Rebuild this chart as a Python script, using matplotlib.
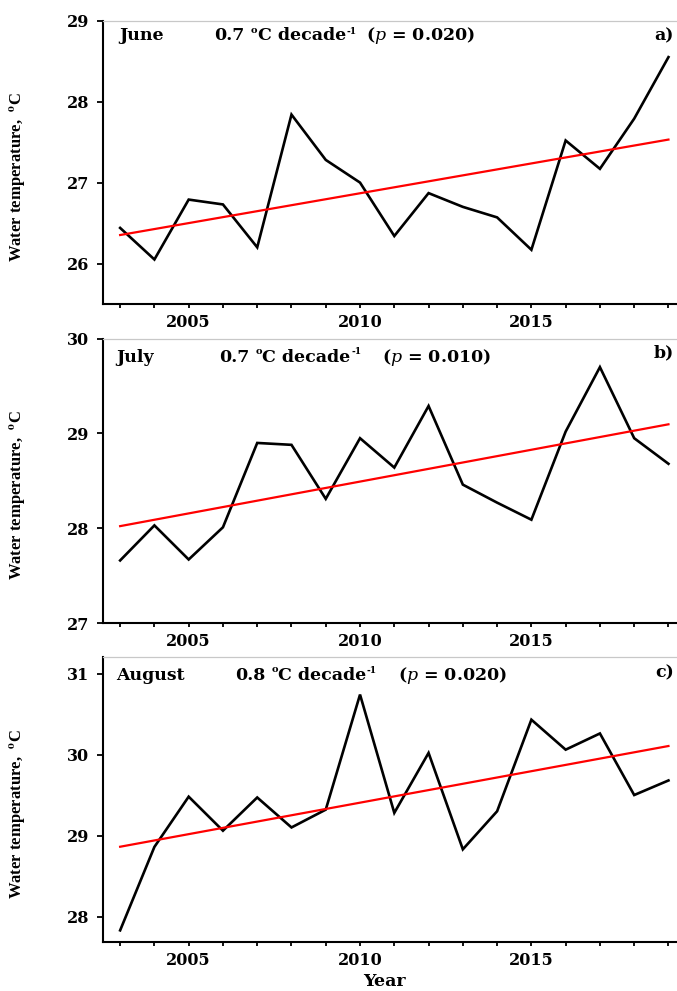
import numpy as np
import matplotlib
matplotlib.use("Agg")
import matplotlib.pyplot as plt
from matplotlib.ticker import MultipleLocator, FixedLocator

# ---- data ----
years = list(range(2003, 2020))
june = [26.44, 26.05, 26.79, 26.73, 26.20, 27.84, 27.28, 27.00, 26.34, 26.87,
        26.70, 26.57, 26.17, 27.52, 27.17, 27.79, 28.55]
july = [27.66, 28.03, 27.67, 28.01, 28.90, 28.88, 28.31, 28.95, 28.64, 29.29,
        28.46, 28.27, 28.09, 29.02, 29.70, 28.95, 28.68]
august = [27.83, 28.86, 29.48, 29.06, 29.47, 29.10, 29.32, 30.74, 29.28, 30.02,
          28.83, 29.30, 30.43, 30.06, 30.26, 29.50, 29.68]
months = ["June", "July", "August"]
trend_txt = ["0.7", "0.7", "0.8"]
p_txt = ["0.020", "0.010", "0.020"]
panel_lbl = ["a)", "b)", "c)"]
yticks = [[26, 27, 28, 29], [27, 28, 29, 30], [28, 29, 30, 31]]
ylims = [(25.5, 29.0), (27.0, 30.0), (27.69, 31.2)]
series = [june, july, august]

W, H = 677, 991
fig = plt.figure(figsize=(W / 100, H / 100), dpi=100)
renderer = fig.canvas.get_renderer()

# axes boxes in pixels: (top, bottom)
boxes = [(20.7, 304.0), (338.7, 623.0), (657.3, 941.7)]
left_px, right_px = 103.0, 685.6

# text positions in pixels
month_pos = [(119, 40.5), (116, 361.5), (116, 680)]
trend_pos = [214.6, 219, 235]
p_pos = [366, 382, 398]
lbl_pos = [(654, 40), (654, 357), (655, 677)]

TXT = dict(family="DejaVu Serif", weight="bold")


def fx(x):
    return x / W


def fy(y):
    return 1 - y / H


def chain(x0, y0, pieces):
    x = x0
    for s, size, rise, gap in pieces:
        t = fig.text(fx(x), fy(y0 - rise), s, fontsize=size, va="baseline",
                     ha="left", **TXT)
        bb = t.get_window_extent(renderer)
        x += bb.width + gap


for i, (top, bot) in enumerate(boxes):
    ax = fig.add_axes([fx(left_px), fy(bot), (right_px - left_px) / W, (bot - top) / H])
    y = series[i]
    ax.plot(years, y, color="black", lw=1.9, solid_joinstyle="miter")
    coef = np.polyfit(years, y, 1)
    yr = np.array([years[0], years[-1]])
    ax.plot(yr, np.polyval(coef, yr), color="#ff0000", lw=1.6)
    ax.set_xlim(2002.5, 2019.5)
    ax.set_ylim(*ylims[i])
    ax.xaxis.set_major_locator(MultipleLocator(5))
    ax.xaxis.set_minor_locator(MultipleLocator(1))
    ax.yaxis.set_major_locator(FixedLocator(yticks[i]))
    for s in ["left", "bottom"]:
        ax.spines[s].set_linewidth(1.5)
        ax.spines[s].set_color("black")
    ax.spines["top"].set_color("#c8c8c8")
    ax.spines["top"].set_linewidth(0.9)
    ax.spines["right"].set_visible(False)
    ax.tick_params(axis="x", which="both", direction="out", length=3.2, width=1.3,
                   pad=4, top=False)
    ax.tick_params(axis="y", which="major", direction="out", length=4, width=1.3,
                   pad=6, right=False)
    ax.tick_params(axis="x", which="major", labelsize=11.5)
    ax.tick_params(axis="y", which="major", labelsize=11.5)
    for lab in ax.get_xticklabels() + ax.get_yticklabels():
        lab.set_fontfamily("DejaVu Serif")
        lab.set_fontweight("bold")
    ax.set_ylabel(r"Water temperature,  $^{\mathbf{o}}$C", family="Liberation Serif",
                  weight="bold", fontsize=12, math_fontfamily="stix")
    ax.yaxis.set_label_coords(-0.129, 0.45)

    mx, my = month_pos[i]
    fig.text(fx(mx), fy(my), months[i], fontsize=12.5, va="baseline", ha="left", **TXT)
    chain(trend_pos[i], my, [
        (trend_txt[i], 12.5, 0, 6),
        ("o", 7, 7.5, 0.5),
        ("C decade", 12.5, 0, 0.5),
        ("-1", 6.5, 7, 0),
    ])
    fig.text(fx(p_pos[i]), fy(my), "(" + r"$\mathit{p}$" + " = " + p_txt[i] + ")",
             fontsize=12.5, va="baseline", ha="left", math_fontfamily="dejavuserif", **TXT)
    lx, ly = lbl_pos[i]
    fig.text(fx(lx), fy(ly), panel_lbl[i], fontsize=12.5, va="baseline", ha="left", **TXT)

fig.text(fx(384), fy(990.5), "Year", fontsize=12.5, va="bottom", ha="center", **TXT)

fig.savefig("out.png", dpi=100)
